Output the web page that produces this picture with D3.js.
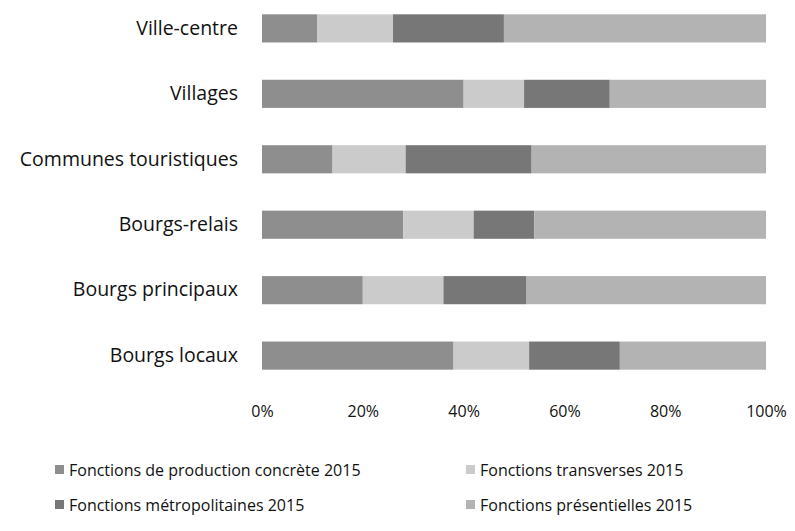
<!DOCTYPE html>
<html><head><meta charset="utf-8">
<script src="https://cdn.jsdelivr.net/npm/d3@7"></script>
<style>body{margin:0;background:#fff}svg{display:block}text{font-family:"Open Sans",sans-serif;fill:#111}</style>
</head><body><svg id="c" width="795" height="531"></svg>
<script>
const categories = ["Ville-centre","Villages","Communes touristiques","Bourgs-relais","Bourgs principaux","Bourgs locaux"];
const seriesNames = ["Fonctions de production concrète 2015","Fonctions transverses 2015","Fonctions métropolitaines 2015","Fonctions présentielles 2015"];
const production = [11, 40, 14, 28, 20, 38];
const transverses = [15, 12, 14.5, 14, 16, 15];
const metropolitaines = [22, 17, 25, 12, 16.5, 18];
const presentielles = [52, 31, 46.5, 46, 47.5, 29];
const tickValues = [0, 0.2, 0.4, 0.6, 0.8, 1];
const colors = ["#8e8e8e", "#cbcbcb", "#777777", "#b3b3b3"];

const svg = d3.select("#c");
const rows = categories.map((c,i)=>{
  const vals=[production[i],transverses[i],metropolitaines[i],presentielles[i]];
  const tot=d3.sum(vals); const o={cat:c};
  seriesNames.forEach((s,j)=>o[s]=vals[j]/tot); return o;
});
const stack = d3.stack().keys(seriesNames)(rows);
const x = d3.scaleLinear().domain([0,1]).range([262,766]);
const y = d3.scaleBand().domain(categories).range([-4,388]).paddingInner(0.57).paddingOuter(0.28);

stack.forEach((layer,j)=>{
  svg.append("g").selectAll("rect").data(layer).join("rect")
    .attr("x",d=>x(d[0])).attr("width",d=>x(d[1])-x(d[0]))
    .attr("y",d=>y(d.data.cat)).attr("height",y.bandwidth())
    .attr("fill",colors[j]);
});

const ya = svg.append("g").attr("transform","translate(248,0)")
  .call(d3.axisLeft(y).tickSize(0).tickPadding(10));
ya.select(".domain").remove();
ya.selectAll("text").style("font-size","19.5px").attr("fill","#111").style("font-family","'Open Sans',sans-serif");

const xa = svg.append("g").attr("transform","translate(0,398)")
  .call(d3.axisBottom(x).tickValues(tickValues).tickFormat(d3.format(".0%")).tickSize(0).tickPadding(8));
xa.select(".domain").remove();
xa.selectAll("text").style("font-size","16px").attr("fill","#111").style("font-family","'Open Sans',sans-serif");

const legPos = [[55,470],[466,470],[55,505],[466,505]];
const leg = svg.append("g").selectAll("g").data(seriesNames).join("g")
  .attr("transform",(d,i)=>`translate(${legPos[i][0]},${legPos[i][1]})`);
leg.append("rect").attr("x",0).attr("y",-5).attr("width",9).attr("height",9)
  .attr("fill",(d,i)=>colors[i]);
leg.append("text").attr("x",14).attr("y",0).attr("dy","0.35em")
  .style("font-size","16px").text(d=>d);
</script></body></html>
